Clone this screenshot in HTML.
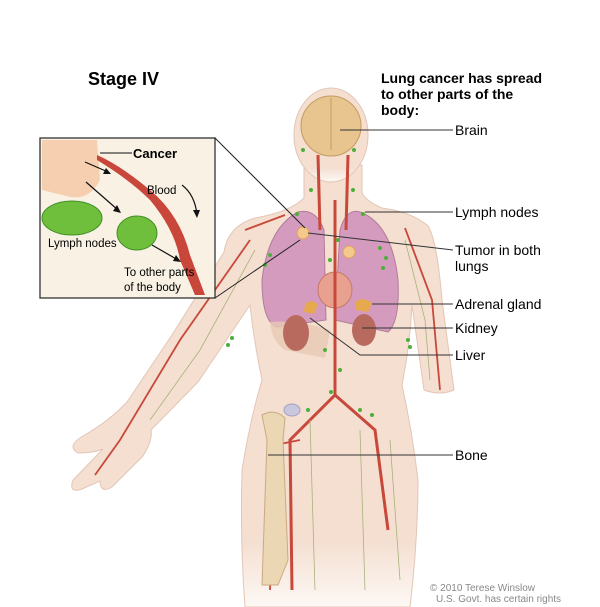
<!DOCTYPE html>
<html><head><meta charset="utf-8"><style>
html,body{margin:0;padding:0;background:#fff;}
svg{display:block;font-family:"Liberation Sans",Arial,sans-serif;}
</style></head><body>
<svg width="600" height="607" viewBox="0 0 600 607" xmlns="http://www.w3.org/2000/svg">
<defs>
<linearGradient id="fade" x1="0" y1="0" x2="0" y2="1">
<stop offset="0.85" stop-color="#f4dfd1"/><stop offset="1" stop-color="#fdf8f5"/>
</linearGradient>
</defs>
<!-- body -->
<g fill="url(#fade)" stroke="#e3c6b6" stroke-width="1">
<path d="M304,165 L304,198 Q290,212 255,218 Q228,226 224,252 L172,335 L127,402 Q108,422 83,436 Q66,446 78,453 Q93,453 103,449 L73,480 Q68,494 82,489 L100,481 Q100,494 112,487 L143,456 Q153,440 151,430 L198,382 L250,305 Q254,342 262,380 Q250,420 242,470 Q240,540 245,607 L410,607 Q418,540 418,480 Q412,430 402,385 Q410,345 412,305 L424,390 Q440,396 454,390 L442,300 Q437,240 428,226 Q412,212 382,208 Q364,200 362,192 L362,165 Z"/>
<ellipse cx="331" cy="135" rx="37" ry="47"/>
</g>
<!-- brain -->
<ellipse cx="331" cy="126" rx="30" ry="30" fill="#e8c58f" stroke="#c59a62"/>
<line x1="331" y1="98" x2="331" y2="150" stroke="#c59a62"/>
<!-- lungs -->
<path d="M298,212 Q268,228 262,280 Q262,322 277,327 L326,320 L324,230 Q316,208 298,212Z" fill="#d49bbf" stroke="#b07c98"/>
<path d="M360,212 Q392,224 398,280 Q400,322 388,332 L335,320 L340,230 Q346,208 360,212Z" fill="#d49bbf" stroke="#b07c98"/>
<!-- heart -->
<ellipse cx="335" cy="290" rx="17" ry="18" fill="#e8a08f" stroke="#c47a6a"/>
<!-- liver/kidneys -->
<path d="M270,322 Q300,320 330,330 L325,358 L285,350 Q272,342 270,322Z" fill="#e9c9b4" opacity="0.8"/>
<ellipse cx="296" cy="333" rx="13" ry="18" fill="#b86a5e"/>
<ellipse cx="364" cy="330" rx="12" ry="16" fill="#b86a5e"/>
<path d="M355,302 Q363,296 372,303 L368,312 L356,310Z" fill="#e6a94e"/>
<path d="M305,304 Q312,298 318,305 L314,314 L304,312Z" fill="#e6a94e"/>
<!-- aorta / vessels -->
<g fill="none" stroke="#c8483a" stroke-width="3">
<path d="M335,200 L335,395 L290,440 L292,590"/>
<path d="M335,395 L375,430 L388,530"/>
<path d="M318,155 L320,230"/><path d="M348,155 L346,230"/>
</g>
<g fill="none" stroke="#c8483a" stroke-width="1.8">
<path d="M250,240 L180,340 L120,440 L95,475"/>
<path d="M405,228 L432,300 L440,390"/>
<path d="M285,215 L245,230"/>
<path d="M300,440 L275,445 L270,590"/>
</g>
<g fill="none" stroke="#a9b27a" stroke-width="0.8">
<path d="M255,250 L200,350 L150,420"/><path d="M405,240 L425,320 L430,380"/>
<path d="M310,420 L315,590"/><path d="M360,430 L365,590"/><path d="M390,440 L400,580"/>
</g>
<!-- femur -->
<path d="M262,415 Q275,408 285,418 L283,440 L288,560 L278,585 L262,585 L267,440 Z" fill="#ecd7b5" stroke="#c9aa82"/>
<ellipse cx="292" cy="410" rx="8" ry="6" fill="#c9c7de" stroke="#a49fbf"/>
<!-- tumors -->
<circle cx="303" cy="233" r="6" fill="#f3c98d" stroke="#e3a25a"/>
<circle cx="349" cy="252" r="6" fill="#f3c98d" stroke="#e3a25a"/>
<!-- lymph nodes -->
<g fill="#4caf3a">
<circle cx="270" cy="255" r="2"/><circle cx="265" cy="265" r="2"/><circle cx="380" cy="248" r="2"/><circle cx="386" cy="258" r="2"/><circle cx="383" cy="268" r="2"/><circle cx="363" cy="214" r="2"/><circle cx="297" cy="214" r="2"/><circle cx="325" cy="350" r="2"/><circle cx="340" cy="370" r="2"/><circle cx="331" cy="392" r="2"/><circle cx="308" cy="410" r="2"/><circle cx="360" cy="410" r="2"/><circle cx="372" cy="415" r="2"/><circle cx="408" cy="340" r="2"/><circle cx="410" cy="347" r="2"/><circle cx="228" cy="345" r="2"/><circle cx="232" cy="338" r="2"/><circle cx="338" cy="240" r="2"/><circle cx="330" cy="260" r="2"/><circle cx="354" cy="150" r="2"/><circle cx="303" cy="150" r="2"/><circle cx="353" cy="190" r="2"/><circle cx="311" cy="190" r="2"/>
</g>
<!-- inset -->
<rect x="40" y="138" width="175" height="160" fill="#f8f1e4" stroke="#333" stroke-width="1.3"/>
<line x1="215" y1="138" x2="305" y2="228" stroke="#222" stroke-width="1"/>
<line x1="215" y1="298" x2="300" y2="240" stroke="#222" stroke-width="1"/>
<path d="M42,140 L97,140 L100,180 Q90,200 70,197 L42,190Z" fill="#f5c9a6" opacity="0.85"/>
<path d="M97,160 Q130,180 150,200 Q175,230 180,260 L195,295 L205,295 L190,255 Q180,215 150,190 Q120,165 97,155Z" fill="#c9463a"/>
<ellipse cx="72" cy="218" rx="30" ry="17" fill="#6fbf3c" stroke="#3f8f25"/>
<ellipse cx="137" cy="233" rx="20" ry="17" fill="#6fbf3c" stroke="#3f8f25"/>
<g stroke="#111" stroke-width="1.2" fill="none">
<path d="M85,162 L108,172"/><path d="M86,182 L118,210"/><path d="M152,245 L178,260"/><path d="M182,185 Q195,195 197,215"/>
</g>
<g fill="#111"><path d="M111,174 L103,174 L106,168Z"/><path d="M121,213 L113,211 L117,205Z"/><path d="M181,262 L173,261 L176,255Z"/><path d="M197,218 L193,210 L200,210Z"/></g>
<line x1="100" y1="153" x2="132" y2="153" stroke="#111"/>
<text x="133" y="158" font-size="13" font-weight="bold">Cancer</text>
<text x="147" y="194" font-size="11.5">Blood</text>
<text x="48" y="247" font-size="11.5">Lymph nodes</text>
<text x="124" y="276" font-size="11.5">To other parts</text>
<text x="124" y="291" font-size="11.5">of the body</text>
<!-- titles -->
<text x="88" y="85" font-size="18" font-weight="bold">Stage IV</text>
<g font-size="14" font-weight="bold"><text x="381" y="83">Lung cancer has spread</text><text x="381" y="99">to other parts of the</text><text x="381" y="115">body:</text></g>
<!-- leaders -->
<g stroke="#333" stroke-width="1">
<line x1="340" y1="130" x2="453" y2="130"/><line x1="365" y1="212" x2="453" y2="212"/>
<line x1="308" y1="233" x2="453" y2="250"/><line x1="372" y1="304" x2="453" y2="304"/>
<line x1="362" y1="328" x2="453" y2="328"/><path d="M310,318 L360,355 L453,355" fill="none"/>
<line x1="268" y1="455" x2="453" y2="455"/>
</g>
<g font-size="14"><text x="455" y="135">Brain</text><text x="455" y="217">Lymph nodes</text><text x="455" y="255">Tumor in both</text><text x="455" y="271">lungs</text><text x="455" y="309">Adrenal gland</text><text x="455" y="333">Kidney</text><text x="455" y="360">Liver</text><text x="455" y="460">Bone</text></g>
<g font-size="10" fill="#888"><text x="430" y="591">© 2010 Terese Winslow</text><text x="436" y="602">U.S. Govt. has certain rights</text></g>
</svg>
</body></html>
